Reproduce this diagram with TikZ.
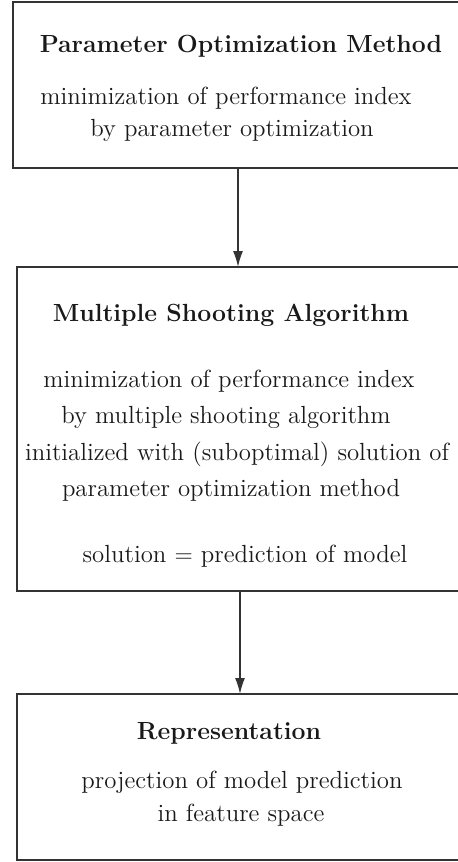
\documentclass[tikz,border=0pt]{standalone}
\usetikzlibrary{arrows.meta}
\definecolor{ink}{HTML}{333333}
\begin{document}
\begin{tikzpicture}[x=0.5pt,y=-0.5pt,
  box/.style={draw=ink,line width=0.75pt,rectangle,inner sep=0pt,outer sep=0pt,anchor=north west,minimum width=230pt},
  ttl/.style={font=\fontsize{12.4}{15}\selectfont\bfseries,text=black!90,inner sep=0pt},
  txt/.style={font=\fontsize{12.4}{15}\selectfont,text=black!90,inner sep=0pt},
  arr/.style={draw=ink,line width=0.75pt,-{Latex[length=8pt,width=5pt]}}]
\useasboundingbox (0,0) rectangle (457,862);
\node[box,minimum height=83pt] (b1) at (13,2) {};
\node[box,minimum height=162pt] (b2) at (17,267) {};
\node[box,minimum height=83pt] (b3) at (17,694) {};
\coordinate (c1) at (238,0);
\coordinate (c2) at (240,0);
\draw[arr] (b1.south -| c1) -- (b2.north -| c1);
\draw[arr] (b2.south -| c2) -- (b3.north -| c2);
% box 1
\node[ttl] (t1) at (241,46) {Parameter Optimization Method};
\node[txt] (l11) at (226,98) {minimization of performance index};
\node[txt] (l12) at (232,130) {by parameter optimization};
% box 2
\node[ttl] (t2) at (231,315) {Multiple Shooting Algorithm};
\node[txt] (l21) at (229,381) {minimization of performance index};
\node[txt] (l22) at (226,417) {by multiple shooting algorithm};
\node[txt] (l23) at (237,454) {initialized with (suboptimal) solution of};
\node[txt] (l24) at (231,490) {parameter optimization method};
\node[txt] (l25) at (245,556) {solution $=$ prediction of model};
% box 3
\node[ttl] (t3) at (229,733) {Representation};
\node[txt] (l31) at (242,782) {projection of model prediction};
\node[txt] (l32) at (241,815) {in feature space};
\end{tikzpicture}
\end{document}
